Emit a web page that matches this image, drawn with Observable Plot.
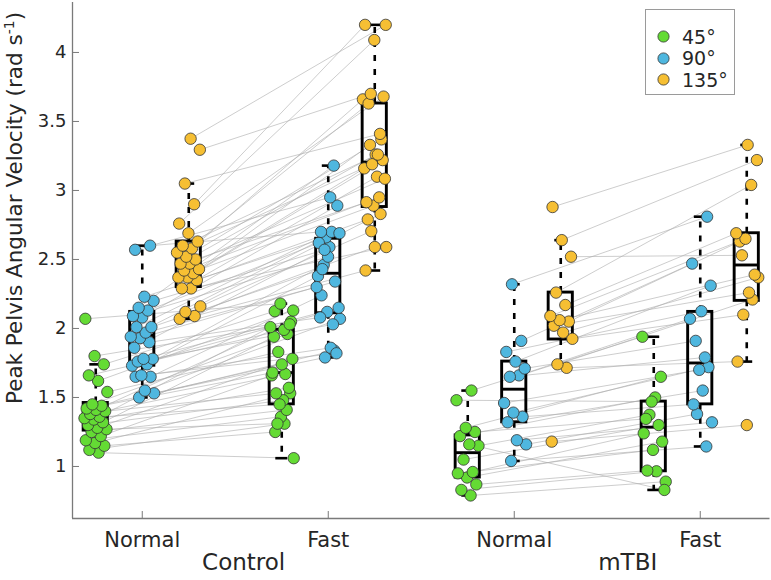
<!DOCTYPE html>
<html><head><meta charset="utf-8">
<script src="https://cdn.jsdelivr.net/npm/d3@7"></script>
<script src="https://cdn.jsdelivr.net/npm/@observablehq/plot@0.6"></script>
<style>
body{margin:0;background:#fff;font-family:"DejaVu Sans",sans-serif;}
#wrap{position:relative;width:771px;height:580px;}
#legend{position:absolute;left:645px;top:9px;width:90px;height:86px;border:1px solid #9a9a9a;background:#fff;box-sizing:border-box;padding:16px 0 0 11px;}
.item{display:flex;align-items:center;height:21.5px;font-size:19px;color:#262626;}
.item svg{margin-right:12px;}
</style></head><body><div id="wrap"><div id="legend"></div></div>
<script>
const conditions = ["Normal","Fast","Normal","Fast"];
const groups = ["Control","mTBI"];
const angles = ["45°","90°","135°"];
const angleColors = ["#64db34","#4fb7df","#f6bf33"];
const yTicks = [1,1.5,2,2.5,3,3.5,4];

// subject-paired values (index i = same subject in Normal and Fast)
const controlNormal45 = [1.10,1.12,1.15,1.17,1.19,1.22,1.25,1.27,1.28,1.30,1.32,1.34,1.35,1.36,1.38,1.40,1.41,1.42,1.44,1.45,1.54,1.62,1.66,1.74,1.80,2.07];
const controlFast45   = [1.06,1.31,1.25,1.53,1.36,1.66,1.41,1.31,1.78,1.48,1.94,1.57,1.45,2.01,1.67,1.53,2.05,1.74,1.68,1.96,1.83,2.13,1.99,2.125,2.03,2.18];
const controlNormal90 = [1.50,1.53,1.55,1.65,1.65,1.66,1.73,1.74,1.76,1.78,1.78,1.86,1.90,1.93,1.94,1.97,2.01,2.01,2.08,2.09,2.13,2.15,2.20,2.23,2.57,2.60];
const controlFast90   = [1.84,1.79,2.07,1.86,2.24,1.82,2.12,2.38,2.03,2.46,2.15,2.59,2.08,2.34,2.66,2.30,2.70,2.43,2.89,2.52,2.62,3.18,2.57,2.69,2.95,2.70];
const controlNormal135 = [2.07,2.09,2.12,2.16,2.29,2.29,2.35,2.37,2.37,2.40,2.42,2.43,2.47,2.47,2.50,2.52,2.55,2.58,2.60,2.63,2.69,2.76,2.90,3.05,3.295,3.375];
const controlFast135   = [2.59,2.42,2.83,2.705,2.59,3.10,2.79,3.22,2.89,3.16,2.95,3.33,3.085,3.26,2.915,3.37,3.19,3.66,3.26,3.63,3.68,4.09,4.20,3.41,3.70,4.20];
const mtbiNormal45 = [0.79,0.83,0.87,0.92,0.95,0.96,1.05,1.15,1.16,1.22,1.25,1.28,1.48,1.55];
const mtbiFast45   = [0.89,0.965,0.97,1.18,1.12,1.24,1.30,1.375,0.83,1.50,1.345,1.65,1.47,1.94];
const mtbiNormal90 = [1.04,1.16,1.19,1.32,1.36,1.39,1.46,1.66,1.65,1.71,1.76,1.83,1.91,2.32];
const mtbiFast90   = [1.145,1.38,1.32,1.55,1.45,1.72,1.70,2.07,1.79,1.91,2.31,2.125,2.47,2.81];
const mtbiNormal135 = [1.18,1.715,1.74,1.925,1.97,2.02,2.05,2.06,2.09,2.17,2.26,2.52,2.64,2.88];
const mtbiFast135   = [1.30,1.76,2.21,2.10,2.37,2.26,2.63,2.39,2.65,2.69,3.04,2.53,3.22,3.33];

// box statistics, order: Control-Normal (45,90,135), Control-Fast, mTBI-Normal, mTBI-Fast
const boxLow    = [1.10,1.50,2.07, 1.06,1.79,2.42, 0.79,1.04,1.715, 0.83,1.145,1.76];
const boxQ1     = [1.26,1.73,2.30, 1.45,2.11,2.88, 0.92,1.32,1.92,  0.965,1.45,2.20];
const boxMedian = [1.355,1.95,2.445, 1.68,2.40,3.205, 1.10,1.56,2.05, 1.285,1.75,2.46];
const boxQ3     = [1.46,2.12,2.63, 1.99,2.65,3.63, 1.225,1.76,2.26, 1.47,2.12,2.69];
const boxHigh   = [1.74,2.60,3.05, 2.18,3.18,4.20, 1.55,2.32,2.64, 1.94,2.81,3.33];

const series = [
  [[controlNormal45,controlFast45],[controlNormal90,controlFast90],[controlNormal135,controlFast135]],
  [[mtbiNormal45,mtbiFast45],[mtbiNormal90,mtbiFast90],[mtbiNormal135,mtbiFast135]]
];
const angleOffset = [-0.25, 0, 0.25];
const halfBox = 0.065, halfCap = 0.032;
const jit = (i, k) => ((((i + 1) * 0.618034 + k * 0.377) % 1) - 0.5) * 0.13;

const points = [], links = [];
series.forEach((grp, g) => grp.forEach((pair, a) => {
  const [nv, fv] = pair;
  const n = Math.min(nv.length, fv.length);
  for (let i = 0; i < n; i++) {
    const p1 = {x: g*2 + angleOffset[a] + jit(i, a*2), y: nv[i], angle: a};
    const p2 = {x: g*2 + 1 + angleOffset[a] + jit(i, a*2+1), y: fv[i], angle: a};
    points.push(p1, p2);
    links.push({x1: p1.x, y1: p1.y, x2: p2.x, y2: p2.y});
  }
}));
const boxes = boxLow.map((lo, j) => ({
  x: Math.floor(j/3) + angleOffset[j%3], lo, q1: boxQ1[j], med: boxMedian[j], q3: boxQ3[j], hi: boxHigh[j]
}));

const xDomain = [-0.375, 3.375];
const yDomain = [0.623, 4.362];
const txt = "#262626";

const plot = Plot.plot({
  width: 771, height: 580,
  marginLeft: 72, marginRight: 1.5, marginTop: 2, marginBottom: 62,
  x: {domain: xDomain, axis: null},
  y: {domain: yDomain, axis: null},
  style: {fontFamily: '"DejaVu Sans", sans-serif', background: "white", color: txt},
  marks: [
    Plot.ruleX([xDomain[0]], {stroke: "#7a7a7a", strokeWidth: 1.3}),
    Plot.ruleY([yDomain[0]], {stroke: "#7a7a7a", strokeWidth: 1.3}),
    Plot.tickY(yTicks, {y: d => d, insetRight: 690.5, stroke: "#7a7a7a"}),
    Plot.tickX([0,1,2,3], {x: d => d, insetTop: 509, stroke: "#7a7a7a"}),
    Plot.axisY(yTicks, {tickSize: 0, tickPadding: 6, fontSize: 18, tickFormat: d => String(d), fill: txt, label: null}),
    Plot.axisX([0,1,2,3], {tickSize: 0, tickPadding: 14, fontSize: 21, tickFormat: d => conditions[d], fill: txt, label: null}),
    Plot.text(groups, {x: (d, i) => 2*i + 0.5, frameAnchor: "bottom", dy: 51, dx: 50, textAnchor: "end", fontSize: 23, fill: txt}),
    Plot.link(links, {x1: "x1", y1: "y1", x2: "x2", y2: "y2", stroke: "#ababab", strokeWidth: 0.6}),
    Plot.ruleX(boxes, {x: "x", y1: "q3", y2: "hi", stroke: "black", strokeWidth: 2.6, strokeDasharray: "6,8"}),
    Plot.ruleX(boxes, {x: "x", y1: "q1", y2: "lo", stroke: "black", strokeWidth: 2.6, strokeDasharray: "6,8"}),
    Plot.ruleY(boxes, {y: "hi", x1: d => d.x - halfCap, x2: d => d.x + halfCap, stroke: "black", strokeWidth: 2.6}),
    Plot.ruleY(boxes, {y: "lo", x1: d => d.x - halfCap, x2: d => d.x + halfCap, stroke: "black", strokeWidth: 2.6}),
    Plot.rect(boxes, {x1: d => d.x - halfBox, x2: d => d.x + halfBox, y1: "q1", y2: "q3", fill: "none", stroke: "black", strokeWidth: 2.9}),
    Plot.ruleY(boxes, {y: "med", x1: d => d.x - halfBox, x2: d => d.x + halfBox, stroke: "black", strokeWidth: 2.9}),
    Plot.dot(points, {x: "x", y: "y", r: 5.7, fill: d => angleColors[d.angle], stroke: "#333", strokeWidth: 0.8})
  ]
});

const svg = d3.select(plot);
const lab = svg.append("text")
  .attr("transform", "translate(22,208) rotate(-90)")
  .attr("text-anchor", "middle")
  .attr("font-size", 21.5)
  .attr("fill", txt)
  .attr("font-family", '"DejaVu Sans", sans-serif');
lab.append("tspan").text("Peak Pelvis Angular Velocity (rad s");
lab.append("tspan").attr("dy", -8).attr("font-size", 14).text("-1");
lab.append("tspan").attr("dy", 8).text(")");

document.getElementById("wrap").prepend(plot);

const legend = d3.select("#legend");
angles.forEach((a, i) => {
  const it = legend.append("div").attr("class", "item");
  const s = it.append("svg").attr("width", 13).attr("height", 13);
  s.append("circle").attr("cx", 6.5).attr("cy", 6.5).attr("r", 5.6).attr("fill", angleColors[i]).attr("stroke", "#333").attr("stroke-width", 0.8);
  it.append("span").text(a);
});
</script>
</body></html>
